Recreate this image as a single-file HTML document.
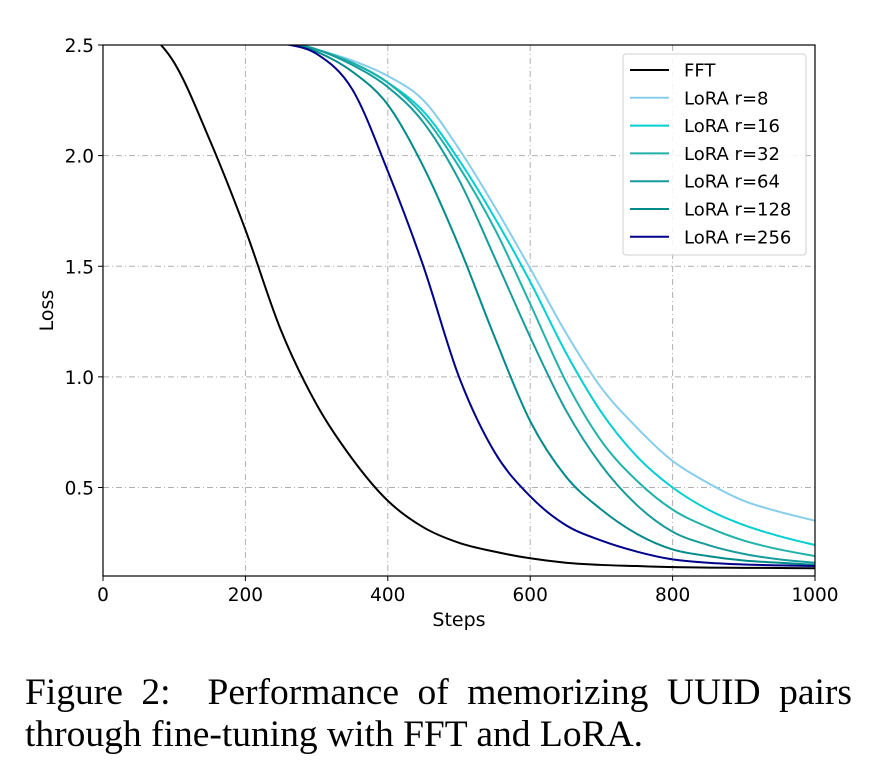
<!DOCTYPE html>
<html><head><meta charset="utf-8"><style>
body{margin:0;background:#fff;width:877px;height:780px;overflow:hidden;position:relative}
.cap{position:absolute;left:25px;width:827px;font-family:"Liberation Serif",serif;font-size:37.5px;color:#000;text-align:justify;text-align-last:justify;white-space:nowrap;line-height:40px}
</style></head><body>
<svg id="chart" width="877" height="660" style="position:absolute;left:0;top:0" font-family="DejaVu Sans, sans-serif"></svg>
<div class="cap" style="top:673px">Figure 2: &nbsp;Performance of memorizing UUID pairs</div>
<div class="cap" style="top:715px;text-align-last:left">through fine-tuning with FFT and LoRA.</div>
<script>
const steps=[0,50,100,150,200,250,300,350,400,450,500,550,600,650,700,750,800,850,900,950,1000];
const fft=[2.76,2.6,2.42,2.07,1.665,1.21,0.875,0.63,0.44,0.32,0.25,0.21,0.18,0.16,0.15,0.145,0.14,0.138,0.137,0.136,0.135];
const r8=[2.7,2.67,2.64,2.6,2.56,2.52,2.48,2.43,2.36,2.25,2.03,1.77,1.49,1.2,0.95,0.77,0.62,0.52,0.44,0.39,0.35];
const r16=[2.7,2.67,2.64,2.6,2.56,2.52,2.48,2.42,2.33,2.2,1.98,1.72,1.43,1.11,0.84,0.64,0.5,0.4,0.33,0.28,0.24];
const r32=[2.7,2.67,2.64,2.6,2.56,2.52,2.48,2.42,2.33,2.18,1.95,1.67,1.33,0.98,0.71,0.53,0.4,0.32,0.26,0.22,0.19];
const r64=[2.7,2.67,2.64,2.6,2.56,2.52,2.48,2.41,2.31,2.15,1.89,1.54,1.18,0.85,0.6,0.42,0.3,0.24,0.2,0.175,0.16];
const r128=[2.7,2.67,2.64,2.6,2.56,2.52,2.47,2.38,2.23,1.95,1.59,1.18,0.8,0.55,0.4,0.29,0.22,0.19,0.17,0.16,0.15];
const r256=[2.7,2.67,2.64,2.6,2.56,2.51,2.46,2.3,1.93,1.5,1.0,0.66,0.46,0.33,0.26,0.21,0.175,0.16,0.152,0.148,0.145];
const seriesNames=["FFT","LoRA r=8","LoRA r=16","LoRA r=32","LoRA r=64","LoRA r=128","LoRA r=256"];
const seriesData=[fft,r8,r16,r32,r64,r128,r256];
const colors=["#000000","#87CEEB","#00CED1","#20B2AA","#179C9C","#008B8B","#00008B"];
const xTicks=[0,200,400,600,800,1000];
const yTicks=[0.5,1.0,1.5,2.0,2.5];
const L=103,R=815,T=45,B=576,ymin=0.1,ymax=2.5;
const X=v=>L+(v-0)/1000*(R-L);
const Y=v=>B-(v-ymin)/(ymax-ymin)*(B-T);
const svg=document.getElementById('chart');const NS='http://www.w3.org/2000/svg';
function mk(t,a,p){const e=document.createElementNS(NS,t);for(const k in a)e.setAttribute(k,a[k]);(p||svg).appendChild(e);return e;}
const defs=mk('defs',{});const cp=mk('clipPath',{id:'pc'},defs);mk('rect',{x:L,y:T,width:R-L,height:B-T},cp);
xTicks.forEach(t=>{const g=mk('line',{x1:X(t),x2:X(t),y1:T,y2:B,stroke:'#b0b0b0','stroke-width':1,'stroke-dasharray':'6,3,1,3'});

mk('line',{x1:X(t),x2:X(t),y1:B,y2:B+5,stroke:'#000'});
const tx=mk('text',{x:X(t),y:B+25,'text-anchor':'middle','font-size':18.5});tx.textContent=t;
});
yTicks.forEach(t=>{const g=mk('line',{x1:L,x2:R,y1:Y(t),y2:Y(t),stroke:'#b0b0b0','stroke-width':1,'stroke-dasharray':'6,3,1,3'});

mk('line',{x1:L-5,x2:L,y1:Y(t),y2:Y(t),stroke:'#000'});
const tx=mk('text',{x:L-9,y:Y(t)+7,'text-anchor':'end','font-size':18.5});tx.textContent=t.toFixed(1);
});
function pathFor(vals){const p=steps.map((s,i)=>[X(s),Y(vals[i])]);let d='M'+p[0][0]+','+p[0][1];
for(let i=0;i<p.length-1;i++){const p0=p[Math.max(0,i-1)],p1=p[i],p2=p[i+1],p3=p[Math.min(p.length-1,i+2)];
d+=' C'+(p1[0]+(p2[0]-p0[0])/6)+','+(p1[1]+(p2[1]-p0[1])/6)+' '+(p2[0]-(p3[0]-p1[0])/6)+','+(p2[1]-(p3[1]-p1[1])/6)+' '+p2[0]+','+p2[1];}return d;}
const gl=mk('g',{'clip-path':'url(#pc)'});
seriesData.forEach((vals,i)=>{const e=mk('path',{d:pathFor(vals),fill:'none',stroke:colors[i],'stroke-width':2},gl);

});
const fr=mk('rect',{x:L,y:T,width:R-L,height:B-T,fill:'none',stroke:'#000','stroke-width':1.2});

const xl=mk('text',{x:(L+R)/2,y:B+50,'text-anchor':'middle','font-size':19});xl.textContent='Steps';

const yl=mk('text',{x:0,y:0,'text-anchor':'middle','font-size':19,transform:'translate(53,'+((T+B)/2)+') rotate(-90)'});yl.textContent='Loss';

const lg=mk('g',{});
mk('rect',{x:623,y:54,width:183,height:201,rx:3,fill:'#fff','fill-opacity':0.85,stroke:'#d0d0d0'},lg);
seriesNames.forEach((n,i)=>{const y=70+i*27.8;
const ln=mk('line',{x1:630,x2:669,y1:y,y2:y,stroke:colors[i],'stroke-width':2},lg);

const t=mk('text',{x:684,y:y+6.5,'font-size':18},lg);t.textContent=n;
});
</script>
</body></html>
